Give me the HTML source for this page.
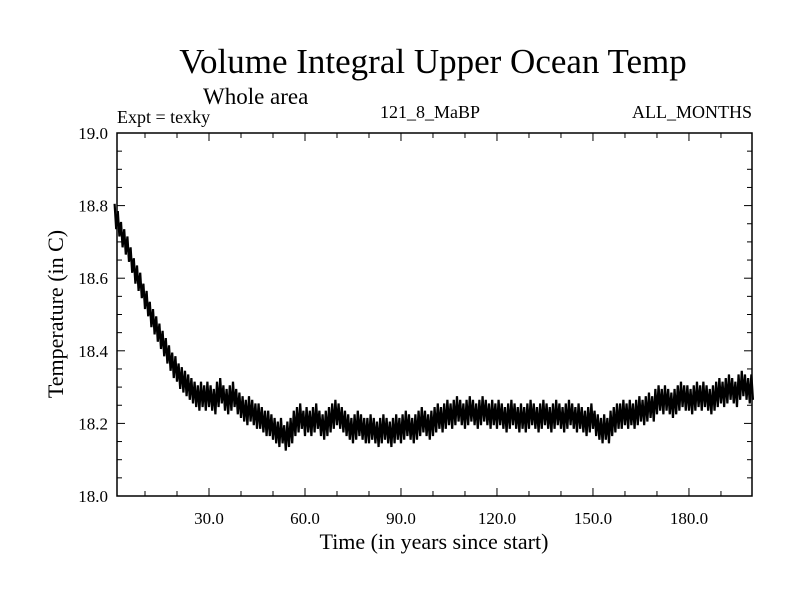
<!DOCTYPE html>
<html><head><meta charset="utf-8"><style>
body{margin:0;background:#fff}
svg text{font-family:"Liberation Serif",serif;fill:#000}
</style></head><body>
<svg id="chart" width="800" height="600" xmlns="http://www.w3.org/2000/svg">
<text x="433" y="73" font-size="35" text-anchor="middle">Volume Integral Upper Ocean Temp</text>
<text x="203" y="104" font-size="23">Whole area</text>
<text x="117" y="123" font-size="18">Expt = texky</text>
<text x="430" y="118" font-size="18" text-anchor="middle">121_8_MaBP</text>
<text x="752" y="118" font-size="18" text-anchor="end">ALL_MONTHS</text>
<text x="434" y="549" font-size="22" text-anchor="middle">Time (in years since start)</text>
<text transform="translate(63,314) rotate(-90)" font-size="22" text-anchor="middle">Temperature (in C)</text>
<g id="axes"></g>
<g id="series"></g>
<rect x="117" y="133" width="635" height="363" fill="none" stroke="#000" stroke-width="1.5"/>
</svg>
<script>
const xTicks=[30,60,90,120,150,180];
const xTickLabels=["30.0","60.0","90.0","120.0","150.0","180.0"];
const yTicks=[18.0,18.2,18.4,18.6,18.8,19.0];
const yTickLabels=["18.0","18.2","18.4","18.6","18.8","19.0"];
const years=Array.from({length:200},(_,i)=>i+1);
const temps=[
18.77,18.75,18.72,18.70,18.68,18.65,18.62,18.60,18.58,18.55,
18.53,18.50,18.48,18.46,18.44,18.42,18.40,18.38,18.36,18.35,
18.33,18.32,18.31,18.30,18.29,18.28,18.27,18.28,18.27,18.28,
18.27,18.26,18.28,18.29,18.27,18.26,18.27,18.28,18.26,18.25,
18.24,18.23,18.24,18.23,18.22,18.22,18.21,18.20,18.20,18.19,
18.18,18.17,18.18,18.16,18.17,18.18,18.20,18.21,18.22,18.20,
18.21,18.20,18.21,18.22,18.20,18.19,18.20,18.21,18.22,18.23,
18.22,18.21,18.20,18.19,18.18,18.19,18.20,18.19,18.18,18.18,
18.19,18.18,18.17,18.18,18.19,18.18,18.17,18.18,18.19,18.18,
18.19,18.20,18.19,18.18,18.19,18.20,18.21,18.20,18.19,18.20,
18.21,18.22,18.21,18.22,18.23,18.22,18.23,18.24,18.23,18.22,
18.23,18.24,18.23,18.22,18.23,18.24,18.23,18.22,18.23,18.22,
18.23,18.22,18.21,18.22,18.23,18.22,18.21,18.22,18.21,18.22,
18.23,18.22,18.21,18.22,18.23,18.22,18.21,18.22,18.23,18.22,
18.21,18.22,18.23,18.22,18.21,18.22,18.21,18.20,18.21,18.22,
18.20,18.19,18.18,18.19,18.18,18.20,18.21,18.22,18.22,18.23,
18.22,18.23,18.22,18.23,18.24,18.23,18.24,18.25,18.24,18.26,
18.27,18.26,18.27,18.26,18.25,18.26,18.27,18.28,18.27,18.27,
18.26,18.27,18.28,18.27,18.28,18.27,18.26,18.27,18.28,18.29,
18.28,18.29,18.30,18.29,18.28,18.30,18.31,18.30,18.29,18.30];
const seasonalHalfRange=[0.035];

const NS="http://www.w3.org/2000/svg";
const L=117,R=752,T=133,B=496,X0=1.25,X1=199.7,Y0=18,Y1=19;
const xs=v=>L+(v-X0)/(X1-X0)*(R-L);
const ys=v=>B-(v-Y0)/(Y1-Y0)*(B-T);
const axes=document.getElementById('axes');
function line(x1,y1,x2,y2,name){
  const l=document.createElementNS(NS,'line');
  l.setAttribute('x1',x1);l.setAttribute('y1',y1);l.setAttribute('x2',x2);l.setAttribute('y2',y2);
  l.setAttribute('stroke','#000');l.setAttribute('stroke-width','1');
  
  
  axes.appendChild(l);
}
function text(x,y,s,anchor,name){
  const t=document.createElementNS(NS,'text');
  t.setAttribute('x',x);t.setAttribute('y',y);t.setAttribute('font-size','17');t.setAttribute('text-anchor',anchor);
  t.textContent=s;
  
  
  axes.appendChild(t);
}
for(let v=10;v<=190;v+=10){
  const major=v%30===0, len=major?8:5;
  line(xs(v),B,xs(v),B-len,'x-tick');
  line(xs(v),T,xs(v),T+len,'x-tick-top');
}
xTicks.forEach((v,i)=>text(xs(v),524,xTickLabels[i],'middle','x-tick-label'));
for(let k=0;k<=20;k++){
  const v=18+k*0.05, major=k%4===0, len=major?8:5;
  line(L,ys(v),L+len,ys(v),'y-tick');
  line(R,ys(v),R-len,ys(v),'y-tick-right');
}
yTicks.forEach((v,i)=>text(108,ys(v)+6,yTickLabels[i],'end','y-tick-label'));

let pts=[];
years.forEach((yr,i)=>{
  const c=temps[i], a=seasonalHalfRange[0];
  pts.push(xs(yr-0.5)+','+ys(c+a));
  pts.push(xs(yr)+','+ys(c-a));
});
const p=document.createElementNS(NS,'polyline');
p.setAttribute('points',pts.join(' '));
p.setAttribute('fill','none');p.setAttribute('stroke','#000');p.setAttribute('stroke-width','2.2');


document.getElementById('series').appendChild(p);
</script>
</body></html>
